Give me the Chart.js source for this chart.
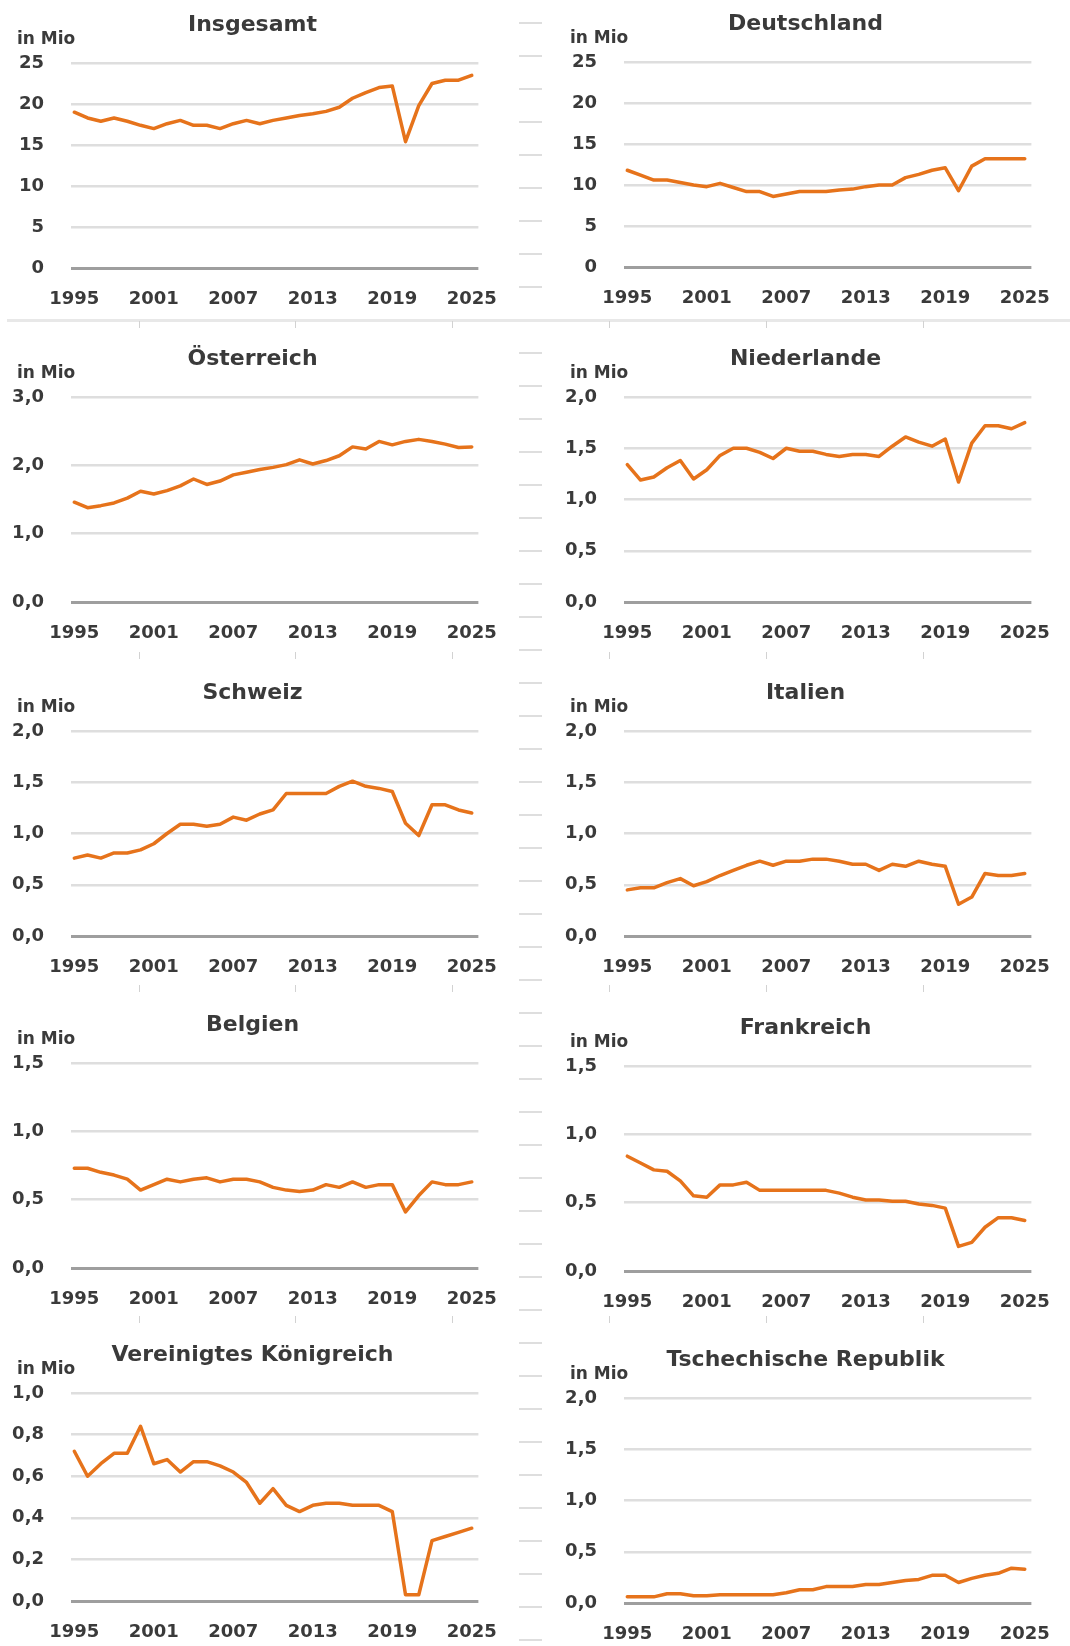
<!DOCTYPE html>
<html lang="de">
<head>
<meta charset="utf-8">
<title>Herkunftsländer in Mio</title>
<script src="https://cdn.jsdelivr.net/npm/chart.js@4.4.1/dist/chart.umd.min.js"></script>
<style>
  html, body { margin: 0; padding: 0; background: #fff; }
  body { position: relative; width: 1070px; height: 1646px; overflow: hidden; }
  canvas { position: absolute; }
  .sep { position: absolute; left: 7px; top: 319px; width: 1063px; height: 3px; background: #e8e8e8; }
  .tick { position: absolute; width: 1px; height: 7px; background: #d2d2d2; }
  .dashes {
    position: absolute; left: 519px; top: 0; width: 23px; height: 1646px;
    background: repeating-linear-gradient(to bottom, transparent 0, transparent 22px,
      #dedede 22px, #dedede 24px, transparent 24px, transparent 33px);
  }
</style>
</head>
<body>
<div class="dashes"></div>
<div class="sep"></div>
<script>
// Jahre und Werte (in Mio)
const years = [1995, 1996, 1997, 1998, 1999, 2000, 2001, 2002, 2003, 2004, 2005, 2006, 2007, 2008, 2009, 2010,
  2011, 2012, 2013, 2014, 2015, 2016, 2017, 2018, 2019, 2020, 2021, 2022, 2023, 2024, 2025];
const xTickYears = [1995, 2001, 2007, 2013, 2019, 2025];

const insgesamt = [19.0, 18.3, 17.9, 18.3, 17.9, 17.4, 17.0, 17.6, 18.0, 17.4, 17.4, 17.0, 17.6, 18.0, 17.6, 18.0,
  18.3, 18.6, 18.8, 19.1, 19.6, 20.7, 21.4, 22.0, 22.2, 15.4, 19.8, 22.5, 22.9, 22.9, 23.5];
const deutschland = [11.8, 11.2, 10.6, 10.6, 10.3, 10.0, 9.8, 10.2, 9.7, 9.2, 9.2, 8.6, 8.9, 9.2, 9.2, 9.2,
  9.4, 9.5, 9.8, 10.0, 10.0, 10.9, 11.3, 11.8, 12.1, 9.3, 12.3, 13.2, 13.2, 13.2, 13.2];
const oesterreich = [1.46, 1.38, 1.41, 1.45, 1.52, 1.62, 1.58, 1.63, 1.70, 1.80, 1.72, 1.77, 1.86, 1.90, 1.94, 1.97,
  2.01, 2.08, 2.02, 2.07, 2.14, 2.27, 2.24, 2.35, 2.30, 2.35, 2.38, 2.35, 2.31, 2.26, 2.27];
const niederlande = [1.34, 1.19, 1.22, 1.31, 1.38, 1.20, 1.29, 1.43, 1.50, 1.50, 1.46, 1.40, 1.50, 1.47, 1.47, 1.44,
  1.42, 1.44, 1.44, 1.42, 1.52, 1.61, 1.56, 1.52, 1.59, 1.17, 1.55, 1.72, 1.72, 1.69, 1.75];
const schweiz = [0.76, 0.79, 0.76, 0.81, 0.81, 0.84, 0.90, 1.00, 1.09, 1.09, 1.07, 1.09, 1.16, 1.13, 1.19, 1.23,
  1.39, 1.39, 1.39, 1.39, 1.46, 1.51, 1.46, 1.44, 1.41, 1.10, 0.98, 1.28, 1.28, 1.23, 1.20];
const italien = [0.45, 0.47, 0.47, 0.52, 0.56, 0.49, 0.53, 0.59, 0.64, 0.69, 0.73, 0.69, 0.73, 0.73, 0.75, 0.75,
  0.73, 0.70, 0.70, 0.64, 0.70, 0.68, 0.73, 0.70, 0.68, 0.31, 0.38, 0.61, 0.59, 0.59, 0.61];
const belgien = [0.73, 0.73, 0.70, 0.68, 0.65, 0.57, 0.61, 0.65, 0.63, 0.65, 0.66, 0.63, 0.65, 0.65, 0.63, 0.59,
  0.57, 0.56, 0.57, 0.61, 0.59, 0.63, 0.59, 0.61, 0.61, 0.41, 0.53, 0.63, 0.61, 0.61, 0.63];
const frankreich = [0.84, 0.79, 0.74, 0.73, 0.66, 0.55, 0.54, 0.63, 0.63, 0.65, 0.59, 0.59, 0.59, 0.59, 0.59, 0.59,
  0.57, 0.54, 0.52, 0.52, 0.51, 0.51, 0.49, 0.48, 0.46, 0.18, 0.21, 0.32, 0.39, 0.39, 0.37];
const vereinigtesKoenigreich = [0.72, 0.60, 0.66, 0.71, 0.71, 0.84, 0.66, 0.68, 0.62, 0.67, 0.67, 0.65, 0.62, 0.57, 0.47, 0.54,
  0.46, 0.43, 0.46, 0.47, 0.47, 0.46, 0.46, 0.46, 0.43, 0.03, 0.03, 0.29, 0.31, 0.33, 0.35];
const tschechien = [0.06, 0.06, 0.06, 0.09, 0.09, 0.07, 0.07, 0.08, 0.08, 0.08, 0.08, 0.08, 0.10, 0.13, 0.13, 0.16,
  0.16, 0.16, 0.18, 0.18, 0.20, 0.22, 0.23, 0.27, 0.27, 0.20, 0.24, 0.27, 0.29, 0.34, 0.33];

const ORANGE = "#e6731b";
const TEXT = "#3a3a3a";
Chart.defaults.font.family = "'DejaVu Sans', sans-serif";

// one panel per country; left/top/height place the canvas on the page
const panels = [
  { title: "Insgesamt", values: insgesamt, max: 25, step: 5, dec: 0, left: 0, top: -1, height: 319 },
  { title: "Deutschland", values: deutschland, max: 25, step: 5, dec: 0, left: 553, top: -2, height: 319 },
  { title: "Österreich", values: oesterreich, max: 3, step: 1, dec: 1, left: 0, top: 333, height: 319 },
  { title: "Niederlande", values: niederlande, max: 2, step: 0.5, dec: 1, left: 553, top: 333, height: 319 },
  { title: "Schweiz", values: schweiz, max: 2, step: 0.5, dec: 1, left: 0, top: 667, height: 319 },
  { title: "Italien", values: italien, max: 2, step: 0.5, dec: 1, left: 553, top: 667, height: 319 },
  { title: "Belgien", values: belgien, max: 1.5, step: 0.5, dec: 1, left: 0, top: 999, height: 319 },
  { title: "Frankreich", values: frankreich, max: 1.5, step: 0.5, dec: 1, left: 553, top: 1002, height: 319 },
  { title: "Vereinigtes Königreich", values: vereinigtesKoenigreich, max: 1, step: 0.2, dec: 1, left: 0, top: 1329, height: 322 },
  { title: "Tschechische Republik", values: tschechien, max: 2, step: 0.5, dec: 1, left: 553, top: 1334, height: 319 },
];

// small tick marks on the row separators
[321, 652, 985, 1316].forEach(function (y) {
  [139, 295, 452, 609, 766, 923].forEach(function (x) {
    const t = document.createElement("div");
    t.className = "tick";
    t.style.left = x + "px";
    t.style.top = y + "px";
    document.body.appendChild(t);
  });
});

// panel title and "in Mio" above the plot
const panelHeader = {
  id: "panelHeader",
  afterDraw(chart, args, opts) {
    const ctx = chart.ctx;
    const top = chart.chartArea.top;
    ctx.save();
    ctx.fillStyle = TEXT;
    ctx.textBaseline = "middle";
    ctx.font = "bold 22px 'DejaVu Sans'";
    ctx.textAlign = "center";
    ctx.fillText(opts.title, chart.chartArea.left + 181.5, top - 38);
    ctx.font = "bold 17px 'DejaVu Sans'";
    ctx.textAlign = "left";
    ctx.fillText("in Mio", 17, top - 23);
    ctx.restore();
  },
};

function formatTick(v, dec) {
  return Number(v).toFixed(dec).replace(".", ",");
}

function makeChart(p) {
  const canvas = document.createElement("canvas");
  canvas.width = 518;
  canvas.height = p.height;
  canvas.style.left = p.left + "px";
  canvas.style.top = p.top + "px";
  document.body.appendChild(canvas);

  return new Chart(canvas, {
    type: "line",
    data: {
      labels: years,
      datasets: [
        {
          data: p.values,
          borderColor: ORANGE,
          borderWidth: 3.5,
          pointRadius: 0,
          tension: 0,
          fill: false,
          borderJoinStyle: "round",
          borderCapStyle: "round",
        },
      ],
    },
    options: {
      responsive: false,
      animation: false,
      layout: { padding: { left: 0, right: 12, top: 64, bottom: 0 } },
      plugins: {
        legend: { display: false },
        tooltip: { enabled: false },
        title: { display: false },
        panelHeader: { title: p.title },
      },
      scales: {
        x: {
          type: "linear",
          min: 1994.75,
          max: 2025.5,
          afterBuildTicks: function (scale) {
            scale.ticks = xTickYears.map(function (v) { return { value: v }; });
          },
          afterFit: function (scale) { scale.height = 50; },
          grid: { display: false, drawTicks: false },
          border: { display: false },
          ticks: {
            color: TEXT,
            font: { size: 18, weight: "bold" },
            padding: 21,
            maxRotation: 0,
            autoSkip: false,
            callback: function (v) { return String(v); },
          },
        },
        y: {
          min: 0,
          max: p.max,
          afterFit: function (scale) { scale.width = 71; },
          grid: {
            drawTicks: false,
            color: function (ctx) { return ctx.tick.value === 0 ? "#9e9e9e" : "#dedede"; },
            lineWidth: function (ctx) { return ctx.tick.value === 0 ? 3 : 2.5; },
          },
          border: { display: false },
          ticks: {
            stepSize: p.step,
            padding: 27,
            color: TEXT,
            font: { size: 18, weight: "bold" },
            callback: function (v) { return formatTick(v, p.dec); },
          },
        },
      },
    },
    plugins: [panelHeader],
  });
}

panels.forEach(makeChart);
</script>
</body>
</html>
